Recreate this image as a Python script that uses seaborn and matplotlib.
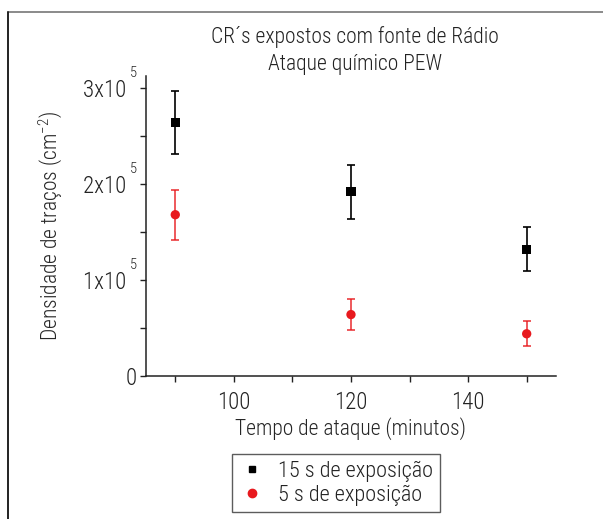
import numpy as np
import pandas as pd
import matplotlib
matplotlib.use("Agg")
import matplotlib.pyplot as plt
import seaborn as sns
from matplotlib.lines import Line2D
from matplotlib.ticker import FixedLocator, FuncFormatter

# ---------------------------------------------------------------
# Dados
# ---------------------------------------------------------------
tempo = [90, 120, 150]
dens_15s = [2.64e5, 1.92e5, 1.32e5]
erro_15s = [0.33e5, 0.28e5, 0.23e5]
dens_5s = [1.68e5, 0.64e5, 0.44e5]
erro_5s = [0.26e5, 0.16e5, 0.13e5]
series = ["15 s de exposição", "5 s de exposição"]
yticks = [0, 1e5, 2e5, 3e5]

df = pd.DataFrame({
    "Tempo": tempo * 2,
    "Densidade": dens_15s + dens_5s,
    "Erro": erro_15s + erro_5s,
    "Serie": [series[0]] * 3 + [series[1]] * 3,
})

sns.set_theme(style="ticks")
plt.rcParams["font.family"] = ["Roboto Condensed", "Liberation Sans Narrow",
                               "Liberation Sans", "DejaVu Sans"]
plt.rcParams["font.weight"] = "light"
plt.rcParams["axes.labelweight"] = "light"
plt.rcParams["mathtext.default"] = "regular"
plt.rcParams["text.color"] = "#222222"

cores = {series[0]: "black", series[1]: "#e8191e"}
marcas = {series[0]: "s", series[1]: "o"}

fig = plt.figure(figsize=(6.03, 5.19), dpi=100)
ax = fig.add_axes([0.2421, 0.2755, 0.9220 - 0.2421, 0.8536 - 0.2755])

# barras de erro
for s in series:
    d = df[df["Serie"] == s]
    ax.errorbar(d["Tempo"], d["Densidade"], yerr=d["Erro"], fmt="none",
                ecolor=cores[s], elinewidth=1.2, capsize=2.8, capthick=1.2,
                alpha=1.0 if s == series[0] else 0.85, zorder=2)

sns.scatterplot(data=df, x="Tempo", y="Densidade", hue="Serie", style="Serie",
                palette=cores, markers=marcas, s=45, edgecolor="none",
                legend=False, ax=ax, zorder=3)

ax.set_xlim(85, 155)
ax.set_ylim(0, 3.125e5)
ax.xaxis.set_major_locator(FixedLocator([100, 120, 140]))
ax.xaxis.set_minor_locator(FixedLocator([90, 110, 130, 150]))
ax.yaxis.set_major_locator(FixedLocator(yticks))
ax.yaxis.set_minor_locator(FixedLocator([0.5e5, 1.5e5, 2.5e5]))


def fmt_y(v, pos):
    if v == 0:
        return "0"
    return "%dx10  " % round(v / 1e5)


ax.yaxis.set_major_formatter(FuncFormatter(fmt_y))
# expoente "5" bem acima, como no original
for v in yticks[1:]:
    ax.annotate("5", xy=(0, v), xycoords=ax.get_yaxis_transform(),
                xytext=(-9, 10.5), textcoords="offset points",
                ha="center", va="center", fontsize=10.5, color="#222222")

ax.tick_params(which="both", direction="out", length=4.5, width=1,
               color="#222222", labelcolor="#222222", labelsize=16.5)
ax.tick_params(axis="x", which="both", pad=6)
ax.tick_params(axis="y", which="both", pad=2)
sns.despine(ax=ax)
for sp in ["left", "bottom"]:
    ax.spines[sp].set_linewidth(1.1)
    ax.spines[sp].set_color("#222222")

ax.set_xlabel("Tempo de ataque (minutos)", fontsize=15.5, labelpad=2.5)
ax.set_ylabel(r"Densidade de traços (cm$^{-2}$)", fontsize=15.5)
ax.yaxis.set_label_coords(-0.2, 0.5)

fig.text(0.589, 0.929, "CR´s expostos com fonte de Rádio", ha="center",
         va="center", fontsize=15.5)
fig.text(0.589, 0.876, "Ataque químico PEW", ha="center", va="center",
         fontsize=15.5)

# legenda
handles = [Line2D([], [], ls="none", marker="s", color="black", ms=5),
           Line2D([], [], ls="none", marker="o", color="#e8191e", ms=6)]
leg = fig.legend(handles, series, loc="center", bbox_to_anchor=(0.557, 0.069),
                 fontsize=16, frameon=True, fancybox=False, handlelength=1.2,
                 handletextpad=0.6, borderpad=0.3, labelspacing=0.12)
leg.get_frame().set_edgecolor("#333333")
leg.get_frame().set_linewidth(1.0)

# bordas da figura (topo e esquerda)
fig.add_artist(Line2D([8 / 603, 1], [1 - 12 / 519, 1 - 12 / 519],
                      transform=fig.transFigure, color="#777777", lw=1.2))
fig.add_artist(Line2D([8 / 603, 8 / 603], [0, 1 - 12 / 519],
                      transform=fig.transFigure, color="#222222", lw=1.4))

fig.savefig("out.png", dpi=100)
